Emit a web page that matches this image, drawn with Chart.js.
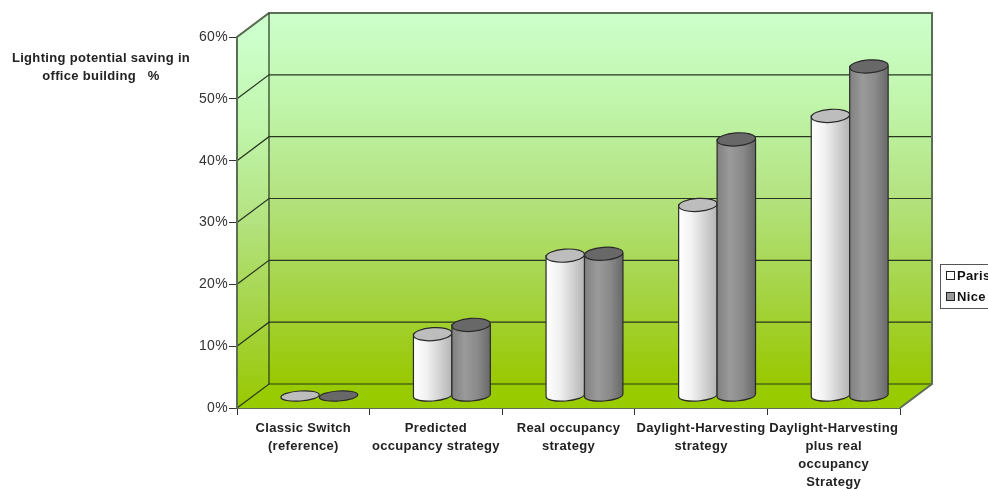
<!DOCTYPE html>
<html lang="en">
<head>
    <meta charset="utf-8">
    <title>Lighting potential saving</title>
    <script src="https://cdn.jsdelivr.net/npm/chart.js"></script>
    <style>
        html, body { margin: 0; background: #fff; overflow: hidden; }
        canvas { display: block; }
    </style>
</head>
<body>
    <canvas id="grafico" width="988" height="489"></canvas>

    <script>
        let categorias = [
            ["Classic Switch", "(reference)"],
            ["Predicted", "occupancy strategy"],
            ["Real occupancy", "strategy"],
            ["Daylight-Harvesting", "strategy"],
            ["Daylight-Harvesting", "plus real", "occupancy", "Strategy"]
        ];
        let paris = [0, 10, 22.7, 30.9, 45.3];
        let nice = [0, 11.5, 23, 41.5, 53.3];
        let tituloEixo = ["Lighting potential saving in", "office building   %"];

        // 3D depth of the box, in pixels
        const DX = 32, DY = -24;
        const FONTE = "'Liberation Sans', Arial, sans-serif";

        function gradienteParede(ctx, y0, y1) {
            let g = ctx.createLinearGradient(0, y0, 0, y1);
            g.addColorStop(0, "#ccffcc");
            g.addColorStop(0.25, "#c0f5aa");
            g.addColorStop(0.5, "#b3e27f");
            g.addColorStop(0.75, "#a5d445");
            g.addColorStop(1, "#99c800");
            return g;
        }

        function desenharCaixa(chart) {
            let ctx = chart.ctx;
            let y = chart.scales.y, a = chart.chartArea;
            let topo = y.getPixelForValue(60), base = y.getPixelForValue(0);

            ctx.save();
            // back wall
            ctx.fillStyle = gradienteParede(ctx, topo + DY, base + DY);
            ctx.fillRect(a.left + DX, topo + DY, a.right - a.left, base - topo);

            // side wall
            ctx.fillStyle = gradienteParede(ctx, topo, base);
            ctx.beginPath();
            ctx.moveTo(a.left, topo);
            ctx.lineTo(a.left + DX, topo + DY);
            ctx.lineTo(a.left + DX, base + DY);
            ctx.lineTo(a.left, base);
            ctx.closePath();
            ctx.fill();

            // floor
            ctx.fillStyle = "#99cc00";
            ctx.beginPath();
            ctx.moveTo(a.left, base);
            ctx.lineTo(a.left + DX, base + DY);
            ctx.lineTo(a.right + DX, base + DY);
            ctx.lineTo(a.right, base);
            ctx.closePath();
            ctx.fill();

            // grid lines, running over the side wall and along the back wall
            ctx.strokeStyle = "#26361f";
            ctx.lineWidth = 1.2;
            y.ticks.forEach(t => {
                let py = y.getPixelForValue(t.value);
                ctx.beginPath();
                ctx.moveTo(a.left, py);
                ctx.lineTo(a.left + DX, py + DY);
                ctx.lineTo(a.right + DX, py + DY);
                ctx.stroke();
            });

            // frame
            ctx.strokeStyle = "#5c6e55";
            ctx.lineWidth = 2;
            ctx.beginPath();
            ctx.moveTo(a.left, base);
            ctx.lineTo(a.left, topo);
            ctx.lineTo(a.left + DX, topo + DY);
            ctx.lineTo(a.right + DX, topo + DY);
            ctx.lineTo(a.right + DX, base + DY);
            ctx.lineTo(a.right, base);
            ctx.stroke();
            ctx.strokeStyle = "#26361f";
            ctx.lineWidth = 1.2;
            ctx.beginPath();
            ctx.moveTo(a.left + DX, topo + DY);
            ctx.lineTo(a.left + DX, base + DY);
            ctx.stroke();
            ctx.restore();
        }

        function desenharCilindro(ctx, bar, cores) {
            let cx = bar.x + DX / 2;
            let topoY = bar.y + DY / 2, baseY = bar.base + DY / 2;
            let rx = bar.width / 2, rot = -0.07;
            let temAltura = baseY - topoY > 1;

            ctx.save();
            ctx.strokeStyle = "#2a2a2a";
            ctx.lineWidth = 1.2;
            if (temAltura) {
                let g = ctx.createLinearGradient(cx - rx, 0, cx + rx, 0);
                cores.lado.forEach((c, i) => g.addColorStop(i / (cores.lado.length - 1), c));
                ctx.fillStyle = g;
                ctx.beginPath();
                ctx.moveTo(cx - rx, topoY);
                ctx.lineTo(cx - rx, baseY);
                ctx.ellipse(cx, baseY, rx, 5.5, rot, Math.PI, 0, true);
                ctx.lineTo(cx + rx, topoY);
                ctx.closePath();
                ctx.fill();
                ctx.stroke();
            }
            ctx.fillStyle = cores.topo;
            ctx.beginPath();
            ctx.ellipse(cx, topoY, rx, temAltura ? 6.5 : 5, rot, 0, Math.PI * 2);
            ctx.fill();
            ctx.stroke();
            ctx.restore();
        }

        function desenharLegenda(chart) {
            let ctx = chart.ctx;
            ctx.save();
            ctx.fillStyle = "#fff";
            ctx.strokeStyle = "#555";
            ctx.lineWidth = 1;
            ctx.fillRect(940.5, 264.5, 60, 44);
            ctx.strokeRect(940.5, 264.5, 60, 44);
            ctx.font = "bold 13px " + FONTE;
            ctx.textBaseline = "middle";
            chart.data.datasets.forEach((d, i) => {
                let y = 276 + i * 21;
                ctx.fillStyle = d.backgroundColor;
                ctx.strokeStyle = "#222";
                ctx.fillRect(946.5, y - 4.5, 8, 8);
                ctx.strokeRect(946.5, y - 4.5, 8, 8);
                ctx.fillStyle = "#111";
                ctx.fillText(d.label, 957, y);
            });
            ctx.restore();
        }

        function desenharTitulo(chart) {
            let ctx = chart.ctx;
            ctx.save();
            ctx.font = "bold 13px " + FONTE;
            ctx.fillStyle = "#222";
            ctx.textAlign = "center";
            ctx.textBaseline = "middle";
            tituloEixo.forEach((t, i) => ctx.fillText(t, 101, 58 + i * 18));
            ctx.restore();
        }

        let coresSerie = [
            { lado: ["#ffffff", "#f2f2f2", "#d4d4d4", "#b4b4b4"], topo: "#bdbdbd" },
            { lado: ["#808080", "#9a9a9a", "#8a8a8a", "#686868"], topo: "#686868" }
        ];

        let cilindros = {
            id: "cilindros",
            beforeDraw(chart) {
                // the original text is slightly spaced out
                chart.ctx.letterSpacing = "0.33px";
            },
            beforeDatasetsDraw(chart) {
                desenharCaixa(chart);
                chart.data.datasets.forEach((d, i) => {
                    chart.getDatasetMeta(i).data.forEach(bar => desenharCilindro(chart.ctx, bar, coresSerie[i]));
                });
            },
            // the bars are replaced by the cylinders above
            beforeDatasetDraw() { return false; },
            afterDraw(chart) {
                desenharLegenda(chart);
                desenharTitulo(chart);
            }
        };

        new Chart(document.getElementById("grafico"), {
            type: "bar",
            data: {
                labels: categorias,
                datasets: [
                    { label: "Paris", data: paris, backgroundColor: "#ffffff", barPercentage: 1, categoryPercentage: 0.58 },
                    { label: "Nice", data: nice, backgroundColor: "#999999", barPercentage: 1, categoryPercentage: 0.58 }
                ]
            },
            options: {
                responsive: false,
                animation: false,
                layout: { padding: { top: 37, right: 88, left: 0, bottom: 0 } },
                plugins: {
                    legend: { display: false },
                    tooltip: { enabled: false }
                },
                scales: {
                    x: {
                        afterFit(s) { s.height = 81; },
                        grid: { drawOnChartArea: false, offset: true, tickLength: 7, color: "#333" },
                        border: { color: "#5c6e55", width: 2 },
                        ticks: {
                            autoSkip: false,
                            maxRotation: 0,
                            padding: 4,
                            color: "#222",
                            font: { family: FONTE, size: 13, weight: "bold", lineHeight: 1.4 }
                        }
                    },
                    y: {
                        min: 0,
                        max: 60,
                        afterFit(s) { s.width = 237; },
                        grid: { drawOnChartArea: false, tickLength: 8, color: "#333" },
                        border: { display: false },
                        ticks: {
                            stepSize: 10,
                            padding: 1,
                            color: "#333",
                            font: { family: FONTE, size: 14 },
                            callback: v => v + "%"
                        }
                    }
                }
            },
            plugins: [cilindros]
        });
    </script>
</body>
</html>
